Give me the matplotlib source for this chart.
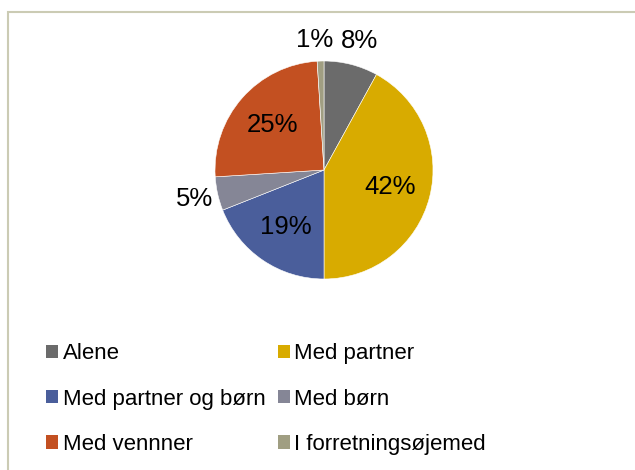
#!/usr/bin/env python3
import numpy as np
from matplotlib import pyplot as plt
from matplotlib.patches import Patch, Rectangle

plt.rcParams['font.family'] = ['Liberation Sans', 'DejaVu Sans']

labels = ['Alene', 'Med partner', 'Med partner og børn', 'Med børn',
          'Med vennner', 'I forretningsøjemed']
values = [8, 42, 19, 5, 25, 1]
colors = ['#6b6b6b', '#d8ab00', '#4a5e9b', '#858696', '#c35021', '#a09e82']

W, H = 635, 470
fig = plt.figure(figsize=(W / 100, H / 100), dpi=100)

# outer frame (only top and left edges visible)
fig.patches.append(Rectangle((7.5 / W, -0.1), 1.2, 1 - 12 / H + 0.1,
                             transform=fig.transFigure, fill=False,
                             edgecolor='#cbcbb4', linewidth=1.5))

cx, cy, r = 324, 170, 109
ax = fig.add_axes([(cx - r) / W, (H - cy - r) / H, 2 * r / W, 2 * r / H])
wedges, _ = ax.pie(values, colors=colors, startangle=90, counterclock=False,
                   wedgeprops=dict(edgecolor='white', linewidth=0.4))
ax.set_xlim(-1, 1)
ax.set_ylim(-1, 1)
ax.set_aspect('equal')

for w, v in zip(wedges, values):
    ang = np.deg2rad((w.theta1 + w.theta2) / 2)
    d = 0.63 if v > 10 else 1.22
    x, y = d * np.cos(ang), d * np.sin(ang)
    if v == 1:
        x -= 0.05
        y -= 0.03
    if v == 8:
        x += 0.02
    ax.text(x, y, f'{v}%', ha='center', va='center', fontsize=18.5,
            clip_on=False)

order = [0, 2, 4, 1, 3, 5]
handles = [Patch(facecolor=colors[i], edgecolor='none') for i in order]
fig.legend(handles, [labels[i] for i in order], ncol=2, frameon=False,
           loc='upper left', bbox_to_anchor=(35 / W, 1 - 332 / H),
           fontsize=16, handlelength=0.55, handleheight=0.55,
           handletextpad=0.2, columnspacing=0.55, labelspacing=1.1,
           borderpad=0)

fig.savefig('out.png', dpi=100)
